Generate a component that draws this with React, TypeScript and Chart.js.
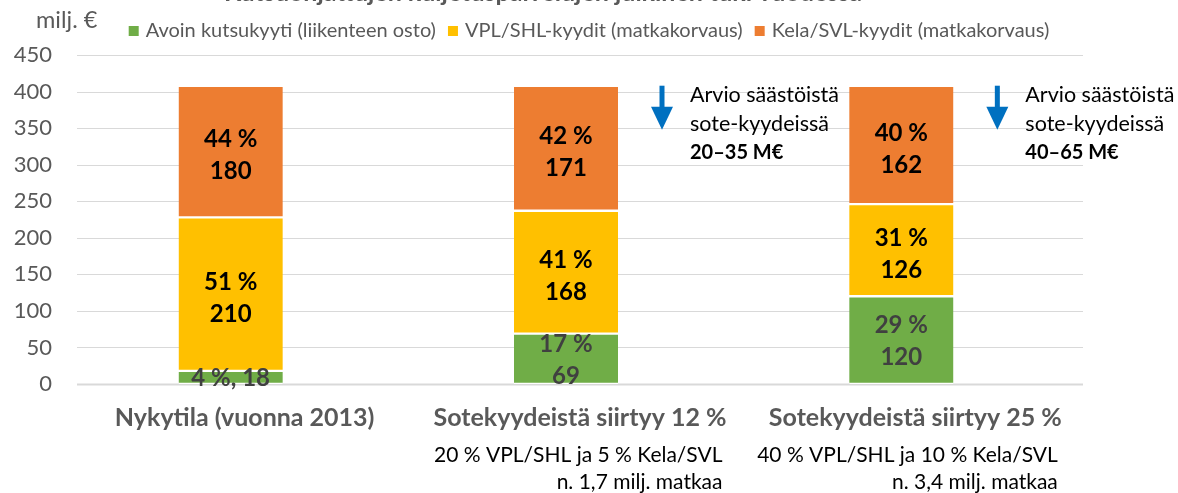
import React, { useEffect, useRef } from "react";
import { Chart, registerables } from "chart.js";

Chart.register(...registerables);

const FONT = "Lato, 'Open Sans', sans-serif";

const chartTitle = "Kutsuohjattujen kuljetuspalvelujen julkinen tuki vuodessa";
const unitLabel = "milj. €";
const categories = ["Nykytila (vuonna 2013)", "Sotekyydeistä siirtyy 12 %", "Sotekyydeistä siirtyy 25 %"];
const subLabels: string[][] = [
  [],
  ["20 % VPL/SHL ja 5 % Kela/SVL", "n. 1,7 milj. matkaa"],
  ["40 % VPL/SHL ja 10 % Kela/SVL", "n. 3,4 milj. matkaa"],
];
const seriesNames = [
  "Avoin kutsukyyti (liikenteen osto)",
  "VPL/SHL-kyydit (matkakorvaus)",
  "Kela/SVL-kyydit (matkakorvaus)",
];
const seriesColors = ["#70AD47", "#FFC000", "#ED7D31"];
const labelColors = ["#404040", "#000000", "#000000"];

const avoinValues = [18, 69, 120];
const avoinPct = [4, 17, 29];
const vplValues = [210, 168, 126];
const vplPct = [51, 41, 31];
const kelaValues = [180, 171, 162];
const kelaPct = [44, 42, 40];

const savingsLines = ["Arvio säästöistä", "sote-kyydeissä"];
const savings: (string | null)[] = [null, "20–35 M€", "40–65 M€"];

const yMin = 0;
const yMax = 450;
const yStep = 50;

const seriesValues = [avoinValues, vplValues, kelaValues];
const seriesPct = [avoinPct, vplPct, kelaPct];

const SHIFT = 14;

const decorPlugin = {
  id: "decor",
  beforeDatasetsDraw(chart: any) {
    const { ctx, chartArea, scales } = chart;
    const y = scales.y;
    ctx.save();
    for (let v = yMin; v <= yMax; v += yStep) {
      const py = Math.round(y.getPixelForValue(v)) + 0.5;
      ctx.strokeStyle = "#d9d9d9";
      ctx.lineWidth = v === 0 ? 2 : 1;
      ctx.beginPath();
      ctx.moveTo(chartArea.left + SHIFT, py);
      ctx.lineTo(chartArea.right + SHIFT, py);
      ctx.stroke();
    }
    ctx.restore();
  },
  afterDatasetsDraw(chart: any) {
    const { ctx, scales } = chart;
    const x = scales.x;
    ctx.save();
    // data labels
    chart.data.datasets.forEach((ds: any, di: number) => {
      const meta = chart.getDatasetMeta(di);
      meta.data.forEach((el: any, i: number) => {
        const { x: bx, y: by, base } = el.getProps(["x", "y", "base"], true);
        const cy = (by + base) / 2;
        const val = seriesValues[di][i];
        const pct = seriesPct[di][i];
        ctx.fillStyle = labelColors[di];
        ctx.font = `bold 24px ${FONT}`;
        ctx.textAlign = "center";
        ctx.textBaseline = "middle";
        if (val < 30) {
          ctx.fillText(`${pct} %, ${val}`, bx, cy + 1);
        } else if (di === 0) {
          ctx.fillText(`${pct} %`, bx, cy - 15);
          ctx.fillText(`${val}`, bx, cy + 17);
        } else {
          ctx.fillText(`${pct} %`, bx, cy - 12);
          ctx.fillText(`${val}`, bx, cy + 20);
        }
      });
    });
    // arrows + savings annotations
    const topMeta = chart.getDatasetMeta(2);
    topMeta.data.forEach((el: any, i: number) => {
      if (!savings[i]) return;
      const { x: bx, y: by, width } = el.getProps(["x", "y", "width"], true);
      const right = bx + width / 2;
      const ax = right + 44;
      ctx.fillStyle = "#0070C0";
      ctx.fillRect(ax - 2.5, by, 5, 24);
      ctx.beginPath();
      ctx.moveTo(ax - 11, by + 21);
      ctx.lineTo(ax + 11, by + 21);
      ctx.lineTo(ax, by + 44);
      ctx.closePath();
      ctx.fill();
      const tx = right + 72;
      ctx.fillStyle = "#000";
      ctx.textAlign = "left";
      ctx.textBaseline = "middle";
      ctx.font = `21.5px ${FONT}`;
      ctx.fillText(savingsLines[0], tx, by + 9);
      ctx.fillText(savingsLines[1], tx, by + 38);
      ctx.font = `bold 20px ${FONT}`;
      ctx.fillText(savings[i] as string, tx, by + 67);
    });
    // category labels
    categories.forEach((c, i) => {
      const cx = x.getPixelForValue(i) + SHIFT;
      ctx.font = `bold 25px ${FONT}`;
      ctx.fillStyle = "#595959";
      ctx.textAlign = "center";
      ctx.textBaseline = "middle";
      ctx.fillText(c, cx, 418);
      const w = ctx.measureText(c).width;
      const rx = cx + w / 2 - 4;
      ctx.font = `21px ${FONT}`;
      ctx.fillStyle = "#000";
      ctx.textAlign = "right";
      subLabels[i].forEach((s, k) => {
        ctx.fillText(s, rx, 455 + k * 27);
      });
    });
    ctx.restore();
  },
  afterDraw(chart: any) {
    const { ctx } = chart;
    ctx.save();
    // clipped title
    ctx.font = `bold 25px ${FONT}`;
    ctx.fillStyle = "#595959";
    ctx.textAlign = "center";
    ctx.textBaseline = "alphabetic";
    ctx.fillText(chartTitle, 543, 1);
    // unit label
    ctx.font = `23.5px ${FONT}`;
    ctx.textAlign = "left";
    ctx.textBaseline = "middle";
    ctx.fillText(unitLabel, 36, 20);
    // legend
    ctx.font = `20px ${FONT}`;
    const box = 10;
    const gapBox = 7;
    const gapItem = 12;
    const widths = seriesNames.map((n) => box + gapBox + ctx.measureText(n).width);
    const total = widths.reduce((a, b) => a + b, 0) + gapItem * (widths.length - 1);
    let lx = 589 - total / 2;
    const ly = 31;
    seriesNames.forEach((n, i) => {
      ctx.fillStyle = seriesColors[i];
      ctx.fillRect(lx, ly - box / 2, box, box);
      ctx.fillStyle = "#595959";
      ctx.fillText(n, lx + box + gapBox, ly);
      lx += widths[i] + gapItem;
    });
    ctx.restore();
  },
};

export default function App() {
  const ref = useRef<HTMLCanvasElement>(null);
  useEffect(() => {
    document.body.style.margin = "0";
    const canvas = ref.current!;
    const chart = new Chart(canvas, {
      type: "bar",
      data: {
        labels: categories,
        datasets: seriesNames.map((name, i) => ({
          label: name,
          data: seriesValues[i],
          backgroundColor: seriesColors[i],
          borderColor: "#ffffff",
          borderWidth: { top: 1.5, bottom: 1.5, left: 0, right: 0 },
          borderSkipped: false,
          barThickness: 104,
        })),
      },
      options: {
        responsive: false,
        maintainAspectRatio: false,
        animation: false,
        devicePixelRatio: 1,
        layout: { padding: { top: 55, right: 109, bottom: 109, left: 0 } },
        plugins: {
          legend: { display: false },
          tooltip: { enabled: false },
          title: { display: false },
        },
        scales: {
          x: { stacked: true, display: false },
          y: {
            stacked: true,
            min: yMin,
            max: yMax,
            ticks: {
              stepSize: yStep,
              color: "#595959",
              font: { family: FONT, size: 22 },
              padding: 11,
            },
            grid: { display: false, drawTicks: false },
            border: { display: false },
            afterFit: (s: any) => {
              s.width = 63;
            },
          },
        },
      },
      plugins: [decorPlugin],
    } as any);
    return () => chart.destroy();
  }, []);
  return (
    <div style={{ width: 1178, height: 493, background: "#fff" }}>
      <canvas ref={ref} width={1178} height={493} />
    </div>
  );
}
